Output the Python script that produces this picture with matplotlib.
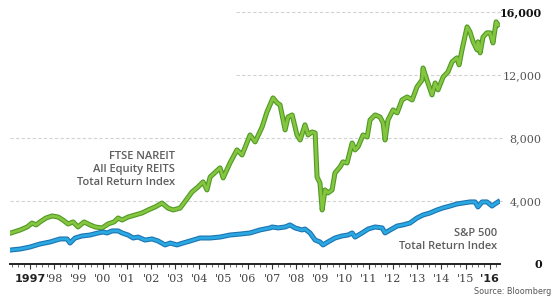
import matplotlib
matplotlib.use("Agg")
import matplotlib.pyplot as plt
import matplotlib.patheffects as pe
from matplotlib.ticker import FixedLocator, MultipleLocator

# FTSE NAREIT All Equity REITs total return index
reit_dates = [1996.21, 1996.59, 1996.88, 1997.08, 1997.25, 1997.41, 1997.66, 1997.91,
              1998.16, 1998.36, 1998.57, 1998.78, 1998.98, 1999.23, 1999.48, 1999.69,
              1999.98, 2000.22, 2000.47, 2000.64, 2000.80, 2001.05, 2001.34, 2001.63,
              2001.88, 2002.17, 2002.45, 2002.70, 2002.91, 2003.20, 2003.45, 2003.69,
              2003.94, 2004.15, 2004.31, 2004.44, 2004.85, 2004.98, 2005.26, 2005.55,
              2005.76, 2006.09, 2006.30, 2006.59, 2006.79, 2007.04, 2007.21, 2007.33,
              2007.54, 2007.66, 2007.83, 2008.03, 2008.16, 2008.36, 2008.49, 2008.65,
              2008.78, 2008.86, 2008.98, 2009.07, 2009.19, 2009.31, 2009.48, 2009.60,
              2009.81, 2009.93, 2010.10, 2010.31, 2010.43, 2010.55, 2010.76, 2010.93,
              2011.05, 2011.26, 2011.46, 2011.59, 2011.67, 2011.79, 2012.00, 2012.17,
              2012.37, 2012.58, 2012.79, 2012.99, 2013.20, 2013.24, 2013.40, 2013.61,
              2013.74, 2013.86, 2014.07, 2014.27, 2014.44, 2014.64, 2014.73, 2014.85,
              2015.06, 2015.18, 2015.31, 2015.47, 2015.51, 2015.60, 2015.72, 2015.88,
              2016.01, 2016.13, 2016.26, 2016.34]
reit_values = [1970, 2160, 2350, 2600, 2480, 2670, 2920, 3050,
               2980, 2790, 2540, 2670, 2350, 2670, 2480, 2350,
               2290, 2540, 2670, 2920, 2790, 2980, 3110, 3240,
               3430, 3620, 3870, 3550, 3430, 3550, 4060, 4570,
               4890, 5210, 4700, 5520, 6100, 5460, 6410, 7240,
               6920, 8190, 7750, 8700, 9650, 10540, 10220, 10100,
               8510, 9330, 9460, 8190, 7870, 8830, 8190, 8380,
               8320, 5520, 5140, 3430, 4700, 4510, 4700, 5780,
               6160, 6480, 6410, 7680, 7240, 7430, 8190, 8060,
               9140, 9460, 9330, 8950, 7870, 9140, 9780, 9590,
               10410, 10600, 10410, 11240, 11680, 12440, 11680, 10730,
               11490, 11050, 11870, 12190, 12830, 13080, 12640, 13590,
               15050, 14730, 14100, 13590, 14100, 13400, 14410, 14670,
               14670, 14030, 15370, 15170]

# S&P 500 total return index
spx_dates = [1996.21, 1996.59, 1997.00, 1997.41, 1997.83, 1998.24, 1998.53, 1998.65,
             1998.86, 1999.15, 1999.48, 1999.81, 2000.02, 2000.18, 2000.39, 2000.64,
             2000.80, 2001.05, 2001.26, 2001.46, 2001.75, 2002.04, 2002.29, 2002.58,
             2002.79, 2003.07, 2003.32, 2003.61, 2004.02, 2004.44, 2004.85, 2005.26,
             2005.68, 2006.09, 2006.50, 2006.92, 2007.00, 2007.25, 2007.54, 2007.74,
             2007.95, 2008.24, 2008.36, 2008.57, 2008.78, 2008.98, 2009.11, 2009.31,
             2009.60, 2009.89, 2010.14, 2010.31, 2010.43, 2010.72, 2010.97, 2011.26,
             2011.55, 2011.67, 2011.88, 2012.17, 2012.41, 2012.70, 2012.99, 2013.24,
             2013.53, 2013.82, 2014.07, 2014.36, 2014.64, 2014.89, 2015.18, 2015.39,
             2015.51, 2015.68, 2015.88, 2016.09, 2016.21, 2016.34]
spx_values = [890, 950, 1080, 1270, 1400, 1590, 1590, 1330,
              1650, 1780, 1840, 1970, 2030, 1970, 2100, 2100,
              1970, 1840, 1650, 1710, 1520, 1590, 1460, 1210,
              1330, 1210, 1330, 1460, 1650, 1650, 1710, 1840,
              1900, 1970, 2160, 2290, 2350, 2290, 2350, 2480,
              2290, 2160, 2220, 1970, 1520, 1400, 1210, 1400,
              1650, 1780, 1840, 1970, 1710, 1970, 2220, 2350,
              2290, 1970, 2160, 2410, 2480, 2600, 2920, 3110,
              3240, 3430, 3560, 3680, 3810, 3870, 3940, 3940,
              3620, 3940, 3940, 3680, 3810, 3940]

years = list(range(1997, 2017))
year_labels = ["1997"] + ["'%02d" % (y % 100) for y in years[1:]]
y_ticks = [0, 4000, 8000, 12000, 16000]
y_labels = ["0", "4,000", "8,000", "12,000", "16,000"]

fig = plt.figure(figsize=(5.53, 3.01), dpi=100)
ax = fig.add_axes([10 / 553, 37 / 301, 490 / 553, 260 / 301])
ax.set_xlim(1996.17, 2016.42)
ax.set_ylim(0, 16500)

# dashed gridlines (top two start further right)
for v in y_ticks[1:]:
    x0 = 2005.5 if v >= 12000 else 1996.17
    ax.plot([x0, 2016.55], [v, v], color="#d2d2d2", lw=0.8, ls=(0, (3, 2)),
            clip_on=False, zorder=1)

ax.plot(reit_dates, reit_values, color="#86c540", lw=2.0, zorder=3,
        solid_joinstyle="round",
        path_effects=[pe.Stroke(linewidth=3.6, foreground="#4f9a25"), pe.Normal()])
ax.plot(spx_dates, spx_values, color="#2aa8e2", lw=2.0, zorder=3,
        solid_joinstyle="round",
        path_effects=[pe.Stroke(linewidth=3.6, foreground="#1d74b0"), pe.Normal()])

for s in ["top", "right", "left"]:
    ax.spines[s].set_visible(False)
ax.spines["bottom"].set_linewidth(1.4)
ax.spines["bottom"].set_color("#222222")

ax.xaxis.set_major_locator(FixedLocator(years))
ax.xaxis.set_minor_locator(MultipleLocator(0.25))
ax.set_xticklabels(year_labels)
ax.tick_params(axis="x", which="major", length=3.5, width=0.8, color="#333333",
               pad=3.5, labelsize=8, labelcolor="#444444")
ax.tick_params(axis="x", which="minor", length=2, width=0.6, color="#555555")
for lab in ax.get_xticklabels():
    lab.set_family("DejaVu Serif")
    if lab.get_text() in ("1997", "'16"):
        lab.set_family("DejaVu Sans")
        lab.set_fontweight("bold")
        lab.set_color("#222222")

ax.yaxis.tick_right()
ax.set_yticks(y_ticks)
ax.set_yticklabels(y_labels)
ax.tick_params(axis="y", length=0, pad=30, labelsize=8, labelcolor="#555555")
for lab in ax.get_yticklabels():
    lab.set_horizontalalignment("right")
    lab.set_family("DejaVu Serif")
    if lab.get_text() in ("0", "16,000"):
        lab.set_fontweight("bold")
        lab.set_color("#111111")

ax.text(2003.0, 7150, "FTSE NAREIT\nAll Equity REITS\nTotal Return Index",
        ha="right", va="top", fontsize=8, family="Open Sans", fontweight="semibold",
        color="#5e5e5e", linespacing=1.25)
ax.text(2016.3, 2280, "S&P 500\nTotal Return Index",
        ha="right", va="top", fontsize=8, family="Open Sans", fontweight="semibold",
        color="#5e5e5e", linespacing=1.25)

fig.text(551 / 553, 1 - 292 / 301, "Source: Bloomberg", ha="right", va="center",
         fontsize=5.8, color="#555555")

fig.savefig("out.png", dpi=100)
